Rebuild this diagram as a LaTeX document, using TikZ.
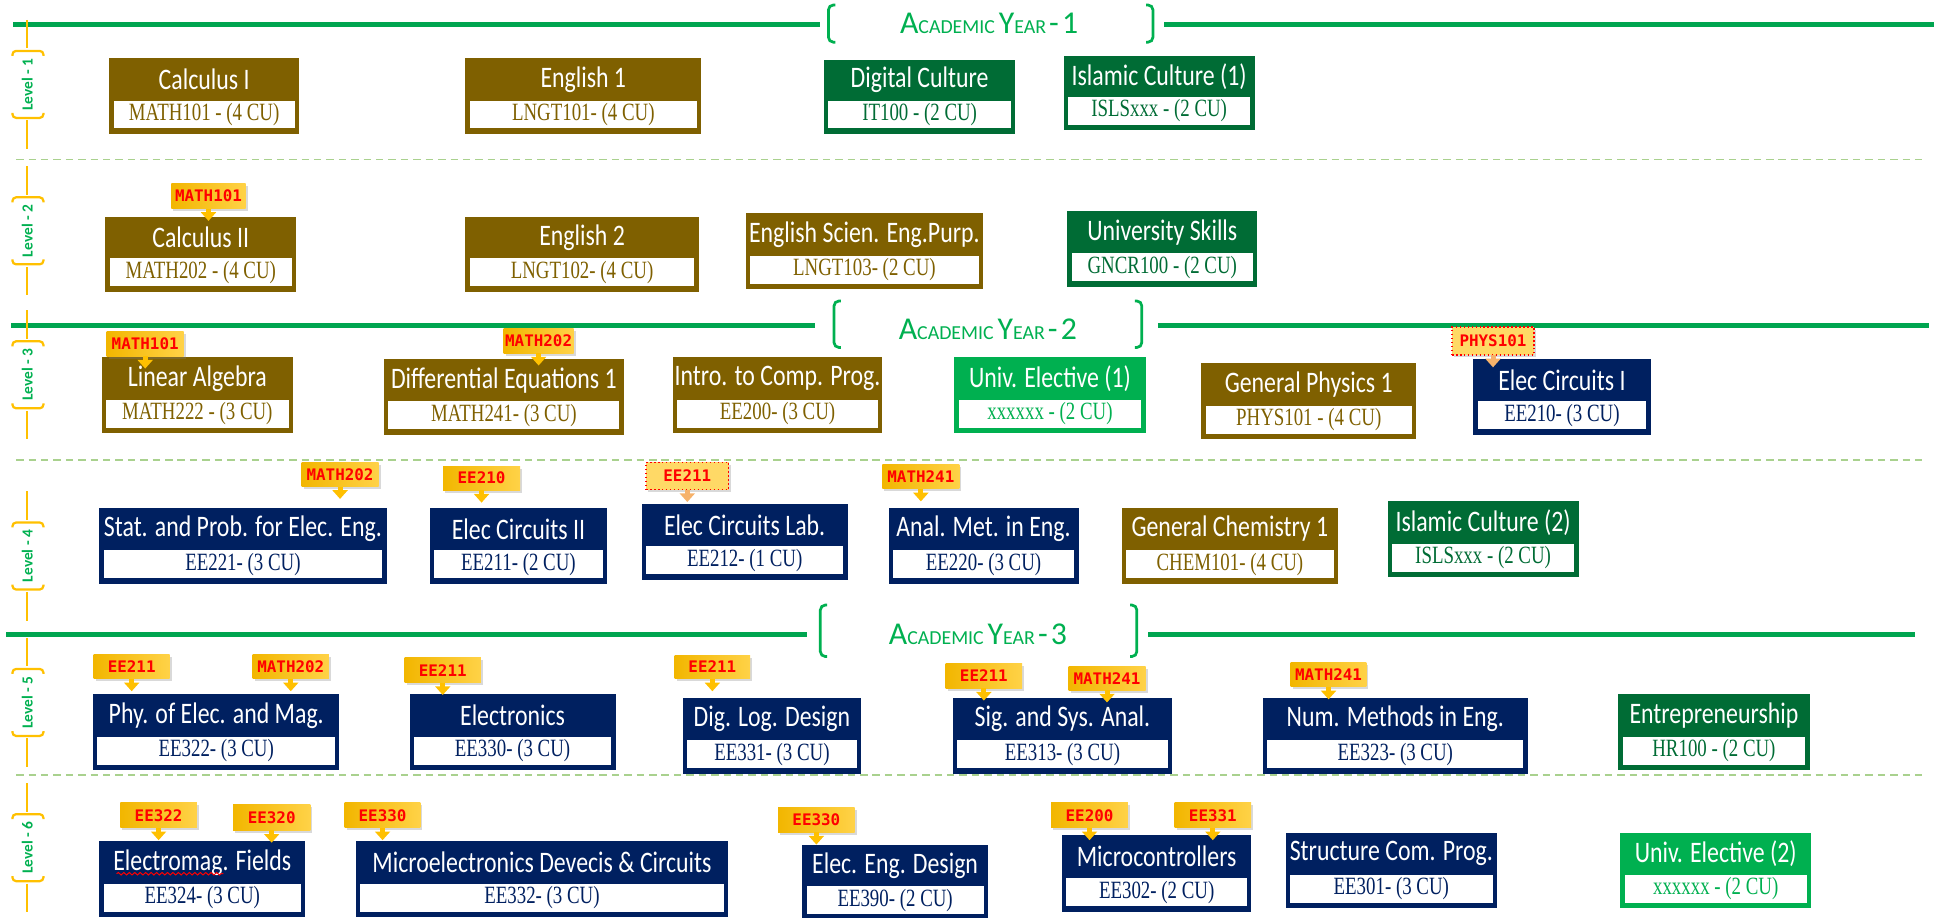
\documentclass[tikz,border=0pt]{standalone}
\usepackage{fontspec}
\setmainfont{Carlito}
\newfontfamily\ttlfont[FakeStretch=0.8]{Carlito}
\newfontfamily\codefont[FakeStretch=0.76]{Liberation Serif}
\newfontfamily\tagfont{DejaVu Sans Mono}
\newfontfamily\hdrfont{Carlito}
\usetikzlibrary{calc,arrows.meta,shadows,decorations.pathmorphing}

\definecolor{cbrown}{HTML}{7F6000}
\definecolor{cnavy}{HTML}{002060}
\definecolor{cdgreen}{HTML}{006C35}
\definecolor{cbgreen}{HTML}{00B050}
\definecolor{hgreen}{HTML}{00A550}
\definecolor{lorange}{HTML}{FFC000}
\definecolor{dashg}{HTML}{A9D18E}
\definecolor{tagL}{HTML}{F2B600}
\definecolor{tagR}{HTML}{FFD247}
\definecolor{tagC}{HTML}{FFC000}
\definecolor{tagD}{HTML}{FFD966}
\definecolor{tagP}{HTML}{F6B26B}
\definecolor{tagred}{HTML}{FF0000}

\tikzset{
  cbox/.style={inner sep=0pt, outer sep=0pt, draw=none},
  cwhite/.style={inner sep=0pt, outer sep=0pt, fill=white, font=\codefont\fontsize{10}{11}\selectfont},
  ctitle/.style={inner sep=0pt, text=white, font=\ttlfont\fontsize{12}{13}\selectfont},
  tagbox/.style={inner sep=0pt, outer sep=0pt, left color=tagL, right color=tagR,
    drop shadow={shadow xshift=0.8pt, shadow yshift=-1pt, opacity=0.3},
    text=tagred, font=\tagfont\bfseries\fontsize{6.4}{7}\selectfont},
  tagdot/.style={inner sep=0pt, outer sep=0pt, fill=tagD, draw=tagred, densely dotted, line width=0.6pt,
    drop shadow={shadow xshift=0.8pt, shadow yshift=-1pt, opacity=0.3},
    text=tagred, font=\tagfont\bfseries\fontsize{6.4}{7}\selectfont},
  pointer/.style={draw=tagC, line width=2pt, -{Triangle[width=6pt,length=3.5pt]}},
  pointerd/.style={draw=tagP, line width=2pt, -{Triangle[width=6pt,length=3.5pt]}},
  hline/.style={draw=hgreen, line width=2pt},
  hbr/.style={draw=cbgreen, line width=1.1pt, rounded corners=2pt},
  hdr/.style={text=cbgreen, font=\hdrfont, inner sep=0pt},
  lline/.style={draw=lorange, line width=0.8pt},
  lbr/.style={draw=lorange, line width=0.9pt, rounded corners=1.5pt},
  lvl/.style={text=cbgreen, font=\hdrfont\bfseries\fontsize{6.2}{7}\selectfont, inner sep=0pt, rotate=90},
  sep/.style={draw=dashg, line width=0.7pt, dash pattern=on 3pt off 2pt},
  squig/.style={draw=red, line width=0.4pt, decorate, decoration={snake, amplitude=0.5pt, segment length=2.2pt}},
}

% #1 name, #2 x1, #3 y1, #4 x2, #5 y2, #6 colour, #7 title, #8 code
\newcommand\course[8]{%
  \node[cbox, fill=#6, minimum width={(#4-#2)*0.5pt}, minimum height={(#5-#3)*0.5pt}]
    (#1) at ({(#2+#4)/2},{(#3+#5)/2}) {};
  \node[cwhite, text=#6, minimum width={(#4-#2-7)*0.5pt}, minimum height=11.25pt]
    (#1-c) at ({(#2+#4)/2},{#5-15.75}) {#8};
  \node[ctitle] (#1-t) at ($(#1.north)!0.5!(#1-c.north)$) {#7};
}
% #1 name, #2 x1, #3 y1, #4 x2, #5 y2, #6 text
\newcommand\prereq[6]{%
  \node[tagbox, minimum width={(#4-#2)*0.5pt}, minimum height={(#5-#3)*0.5pt}]
    (#1) at ({(#2+#4)/2},{(#3+#5)/2}) {#6};
  \draw[pointer] (#1.south) -- ++(0,10);
}
\newcommand\prereqdot[6]{%
  \node[tagdot, minimum width={(#4-#2)*0.5pt}, minimum height={(#5-#3)*0.5pt}]
    (#1) at ({(#2+#4)/2},{(#3+#5)/2}) {#6};
  \draw[pointerd] (#1.south) -- ++(0,10);
}
% #1 name, #2 centre y, #3 number
\newcommand\level[3]{%
  \node[lvl] (#1) at (22,#2) {Level - #3};
  \draw[lline] (22,#2-52) -- (22,#2-29);
  \draw[lline] (22,#2+29) -- (22,#2+52);
  \draw[lbr] (10,#2-23) -- (10,#2-27) -- (35,#2-27) -- (35,#2-23);
  \draw[lbr] (10,#2+23) -- (10,#2+27) -- (35,#2+27) -- (35,#2+23);
}
\newcommand\acyeartext[1]{\fontsize{12.8}{14}\selectfont A{\fontsize{8}{9}\selectfont CADEMIC}\hspace{0.12em}Y{\fontsize{8}{9}\selectfont EAR}\hspace{0.1em}-\hspace{0.1em}#1}

\begin{document}
\begin{tikzpicture}[x=0.5pt,y=-0.5pt]
\useasboundingbox (0,0) rectangle (1568,739);

% ---- academic year headers
\node[hdr] (yr1) at (797,19) {\acyeartext{1}};
\draw[hline] (10.5,19.5) -- (661,19.5);
\draw[hline] (938,19.5) -- (1558,19.5);
\draw[hbr] (673,4) -- (667.5,4) -- (667.5,34) -- (673,34);
\draw[hbr] (923.5,4) -- (929,4) -- (929,34) -- (923.5,34);

\node[hdr] (yr2) at (796,265) {\acyeartext{2}};
\draw[hline] (9,262) -- (657,262);
\draw[hline] (933,262) -- (1554,262);
\draw[hbr] (677.5,242.5) -- (672,242.5) -- (672,280) -- (677.5,280);
\draw[hbr] (914.5,242.5) -- (920,242.5) -- (920,280) -- (914.5,280);

\node[hdr] (yr3) at (788,511) {\acyeartext{3}};
\draw[hline] (5,511) -- (650,511);
\draw[hline] (925,511) -- (1543,511);
\draw[hbr] (666.5,487.5) -- (661,487.5) -- (661,529) -- (666.5,529);
\draw[hbr] (910.5,487.5) -- (916,487.5) -- (916,529) -- (910.5,529);

% ---- level separators
\draw[sep] (13,128.5) -- (1552,128.5);
\draw[sep] (13,370.5) -- (1552,370.5);
\draw[sep] (13,624.5) -- (1552,624.5);

% ---- level labels
\level{lv1}{68}{1}
\level{lv2}{186}{2}
\level{lv3}{302}{3}
\level{lv4}{448}{4}
\level{lv5}{566}{5}
\level{lv6}{683}{6}

% ---- level 1
\course{calc1}{88}{47}{241}{108}{cbrown}{Calculus I}{MATH101 - (4 CU)}
\course{eng1}{375}{47}{565}{108}{cbrown}{English 1}{LNGT101- (4 CU)}
\course{digc}{664}{48}{818}{108}{cdgreen}{Digital Culture}{IT100 - (2 CU)}
\course{isl1}{857}{45}{1011}{105}{cdgreen}{Islamic Culture (1)}{ISLSxxx - (2 CU)}

% ---- level 2
\course{calc2}{85}{175}{238.5}{235}{cbrown}{Calculus II}{MATH202 - (4 CU)}
\course{eng2}{375}{175}{563}{235}{cbrown}{English 2}{LNGT102- (4 CU)}
\course{esep}{601}{172}{792}{233}{cbrown}{English Scien. Eng.Purp.}{LNGT103- (2 CU)}
\course{usk}{860}{170}{1013}{231}{cdgreen}{University Skills}{GNCR100 - (2 CU)}
\prereq{p-calc2}{138}{148}{198}{168}{MATH101}

% ---- level 3
\course{linalg}{82}{288}{236}{349}{cbrown}{Linear Algebra}{MATH222 - (3 CU)}
\course{diffeq}{309.5}{289.5}{502.5}{350.5}{cbrown}{Differential Equations 1}{MATH241- (3 CU)}
\course{icp}{542}{288}{711}{349}{cbrown}{Intro. to Comp. Prog.}{EE200- (3 CU)}
\course{ue1}{769}{288}{923}{349}{cbgreen}{Univ. Elective (1)}{xxxxxx - (2 CU)}
\course{gphys}{968}{292.5}{1141}{354}{cbrown}{General Physics 1}{PHYS101 - (4 CU)}
\course{ec1}{1187}{289}{1330}{350.5}{cnavy}{Elec Circuits I}{EE210- (3 CU)}
\prereq{p-linalg}{86}{267.5}{148}{287}{MATH101}
\prereq{p-diffeq}{405.8}{265}{462.2}{284.5}{MATH202}
\prereqdot{p-ec1}{1170}{263.5}{1236}{286}{PHYS101}

% ---- level 4
\course{stat}{80}{409}{311.5}{470.5}{cnavy}{Stat. and Prob. for Elec. Eng.}{EE221- (3 CU)}
\course{ec2}{346.5}{409}{489}{470.5}{cnavy}{Elec Circuits II}{EE211- (2 CU)}
\course{ecl}{517}{406}{683}{467}{cnavy}{Elec Circuits Lab.}{EE212- (1 CU)}
\course{anal}{716}{409}{869}{470.5}{cnavy}{Anal. Met. in Eng.}{EE220- (3 CU)}
\course{chem}{904}{409}{1078}{470.5}{cbrown}{General Chemistry 1}{CHEM101- (4 CU)}
\course{isl2}{1118}{404}{1272}{465}{cdgreen}{Islamic Culture (2)}{ISLSxxx - (2 CU)}
\prereq{p-stat}{243}{373}{305}{392}{MATH202}
\prereq{p-ec2}{357}{375.5}{419}{395}{EE210}
\prereqdot{p-ecl}{520.6}{372.5}{587}{394.5}{EE211}
\prereq{p-anal}{711}{374}{773}{394}{MATH241}

% ---- level 5
\course{phy}{75}{559.5}{273.5}{620.5}{cnavy}{Phy. of Elec. and Mag.}{EE322- (3 CU)}
\course{elec}{330}{559.5}{496}{620.5}{cnavy}{Electronics}{EE330- (3 CU)}
\course{dld}{550}{562.5}{694}{623.5}{cnavy}{Dig. Log. Design}{EE331- (3 CU)}
\course{ssa}{767.7}{562.5}{944.5}{623.5}{cnavy}{Sig. and Sys. Anal.}{EE313- (3 CU)}
\course{nm}{1017.7}{562.5}{1230.8}{623.5}{cnavy}{Num. Methods in Eng.}{EE323- (3 CU)}
\course{entre}{1304}{559.5}{1458}{620.5}{cdgreen}{Entrepreneurship}{HR100 - (2 CU)}
\prereq{p-phy-a}{75.5}{527}{136.7}{547}{EE211}
\prereq{p-phy-b}{203.6}{527}{265}{547}{MATH202}
\prereq{p-elec}{326}{530}{387.5}{550}{EE211}
\prereq{p-dld}{543.5}{528}{604.5}{547}{EE211}
\prereq{p-ssa-a}{762}{535}{823.5}{554.5}{EE211}
\prereq{p-ssa-b}{861}{537}{923}{556}{MATH241}
\prereq{p-nm}{1040}{533.5}{1101}{553.5}{MATH241}

% ---- level 6
\course{emf}{80}{677.5}{246}{739}{cnavy}{Electromag. Fields}{EE324- (3 CU)}
\course{micro}{286.7}{677.5}{586.7}{739}{cnavy}{Microelectronics Devecis \& Circuits}{EE332- (3 CU)}
\course{eed}{646.5}{681}{796}{741}{cnavy}{Elec. Eng. Design}{EE390- (2 CU)}
\course{mc}{855.7}{673}{1008.3}{734.5}{cnavy}{Microcontrollers}{EE302- (2 CU)}
\course{scp}{1035.8}{671}{1206.3}{732}{cnavy}{Structure Com. Prog.}{EE301- (3 CU)}
\course{ue2}{1305.6}{671}{1459.3}{732}{cbgreen}{Univ. Elective (2)}{xxxxxx - (2 CU)}
\prereq{p-emf-a}{97}{647}{158.6}{667}{EE322}
\prereq{p-emf-b}{187.8}{648}{250}{669}{EE320}
\prereq{p-micro}{277.7}{647}{338.8}{667}{EE330}
\prereq{p-eed}{627}{650.5}{688.6}{670.5}{EE330}
\prereq{p-mc-a}{847}{647}{908.8}{667}{EE200}
\prereq{p-mc-b}{946.5}{647}{1008}{667}{EE331}
\draw[squig] (94,704) -- (180,704);
\end{tikzpicture}
\end{document}
